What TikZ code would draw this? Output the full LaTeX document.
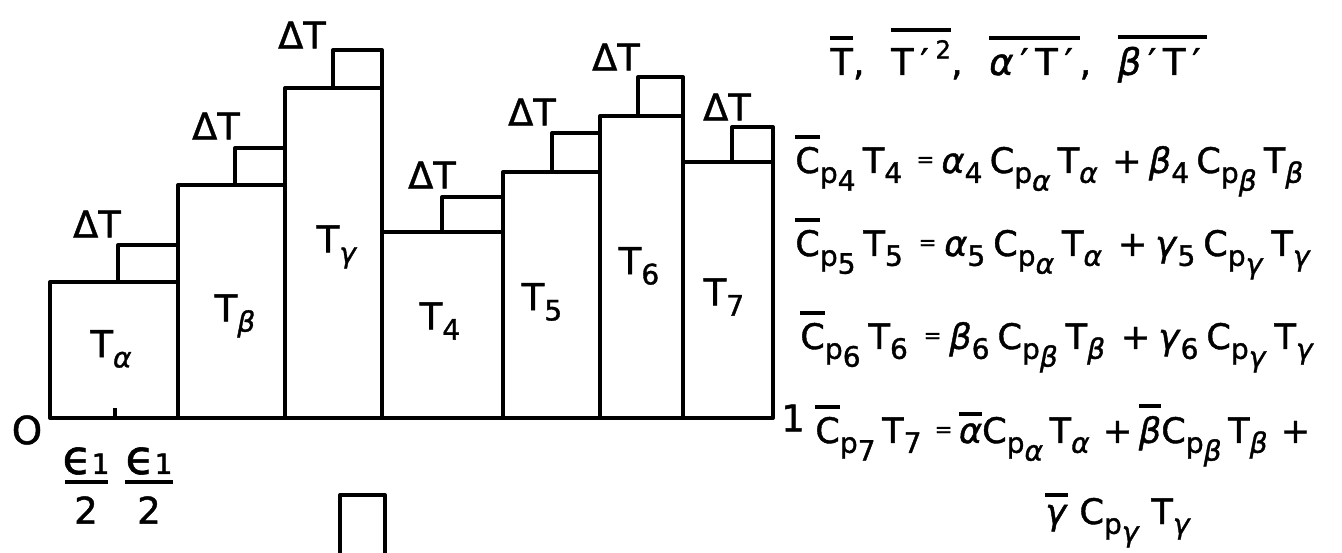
\documentclass[tikz,border=0pt]{standalone}
\usepackage{fontspec}
\setmainfont{DejaVu Sans}[FakeBold=1.2]
\usetikzlibrary{positioning}

\newsavebox\ovbox
\newlength\eqgap
\setlength\eqgap{2pt}
\newcommand{\obar}[1]{\sbox\ovbox{#1}\rlap{\raisebox{\dimexpr\ht\ovbox+0.22em\relax}{\rule{\wd\ovbox}{0.11em}}}\usebox\ovbox}
\newcommand{\subn}[1]{\raisebox{-0.28em}{\fontsize{16}{16}\selectfont #1}}
\newcommand{\subx}[1]{\subn{#1}\kern\eqgap}
\newcommand{\supx}[1]{\raisebox{0.45em}{\fontsize{14}{14}\selectfont #1}}
\newcommand{\eqsign}{\kern\eqgap\raisebox{0.18em}{\fontsize{12}{12}\selectfont =}\kern\eqgap}
\newcommand{\plus}{\kern\eqgap+\kern\eqgap}
\newcommand{\prm}{\kern\eqgap′\kern\eqgap}
\newcommand{\galpha}{\textit{α}}
\newcommand{\gbeta}{\textit{β}}
\newcommand{\ggamma}{\textit{γ}}

\begin{document}
\begin{tikzpicture}[
    x=0.02cm, y=-0.02cm,
    bar/.style={draw, line width=2.3pt, line join=round},
    lbl/.style={inner sep=0pt, font=\fontsize{21}{21}\selectfont},
    eqn/.style={inner sep=0pt, anchor=base west, font=\fontsize{20}{20}\selectfont}
]
    \useasboundingbox (0,0) rectangle (1342,553);

    % bars with their Delta T steps
    \foreach \xl/\xr/\yt/\xb/\yb/\dx/\dy [count=\i] in {
        50/178/282/118/245/97/224,
        178/285/185/235/148/216/126,
        285/382/88/333/50/302/35,
        382/503/232/442/197/432/175,
        503/600/172/552/133/532/112,
        600/683/116/638/77/616/57,
        683/773/162/732/127/727/107}
    {
        \draw[bar] (\xl,418) rectangle (\xr,\yt);
        \draw[bar] (\xb,\yt) rectangle (\xr,\yb);
        \node[lbl] (dt\i) at (\dx,\dy) {ΔT};
    }
    \draw[bar] (115,418) -- (115,408);

    % bar labels
    \node[lbl] (ta) at (111,349) {T\subn{\galpha}};
    \node[lbl] (tb) at (235,316) {T\subn{\gbeta}};
    \node[lbl] (tg) at (337,247) {T\subn{\ggamma}};
    \node[lbl] (t4) at (440,321) {T\subn{4}};
    \node[lbl] (t5) at (542,302) {T\subn{5}};
    \node[lbl] (t6) at (639,266) {T\subn{6}};
    \node[lbl] (t7) at (724,297) {T\subn{7}};

    % axis ends and the two half widths
    \node[lbl, font=\fontsize{22}{22}\selectfont] (zero) at (27,430) {O};
    \node[lbl] (one) at (793,418) {1};
    \node[lbl, font=\fontsize{27}{27}\selectfont] (eps1) at (86,461) {ϵ{\fontsize{16}{16}\selectfont 1}};
    \node[lbl, below=0.42cm of eps1] (half1) {2};
    \draw[bar] (65,482) -- (108,482);
    \node[lbl, font=\fontsize{27}{27}\selectfont] (eps2) at (149,461) {ϵ{\fontsize{16}{16}\selectfont 1}};
    \node[lbl, below=0.42cm of eps2] (half2) {2};
    \draw[bar] (125,482) -- (173,482);

    \draw[bar] (340,553) |- (385,495) -- (385,553);

    % mixing relations
    \node[eqn, font=\fontsize{21}{21}\selectfont] (eq1) at (830,75) {\setlength\eqgap{3.8pt}\obar{T},\hspace{0.4em} \obar{T\prm\supx{2}},\hspace{0.4em} \obar{\galpha\prm T\prm},\hspace{0.4em} \obar{\gbeta\prm T\prm}};
    \node[eqn] (eq4) at (795,173) {\setlength\eqgap{4.1pt}\obar{C}\subx{p\subn{4}}T\subx{4}\eqsign\galpha\subx{4}C\subx{p\subn{\galpha}}T\subx{\galpha}\plus\gbeta\subx{4}C\subx{p\subn{\gbeta}}T\subx{\gbeta}};
    \node[eqn] (eq5) at (795,256) {\setlength\eqgap{4.5pt}\obar{C}\subx{p\subn{5}}T\subx{5}\eqsign\galpha\subx{5}C\subx{p\subn{\galpha}}T\subx{\galpha}\plus\ggamma\subx{5}C\subx{p\subn{\ggamma}}T\subx{\ggamma}};
    \node[eqn] (eq6) at (800,349) {\setlength\eqgap{4.5pt}\obar{C}\subx{p\subn{6}}T\subx{6}\eqsign\gbeta\subx{6}C\subx{p\subn{\gbeta}}T\subx{\gbeta}\plus\ggamma\subx{6}C\subx{p\subn{\ggamma}}T\subx{\ggamma}};
    \node[eqn] (eq7) at (815,443) {\setlength\eqgap{3.75pt}\obar{C}\subx{p\subn{7}}T\subx{7}\eqsign\obar{\galpha}C\subx{p\subn{\galpha}}T\subx{\galpha}\plus\obar{\gbeta}C\subx{p\subn{\gbeta}}T\subx{\gbeta}\plus};
    \node[eqn] (eq7b) at (1045,524) {\setlength\eqgap{6.7pt}\obar{\ggamma}\kern\eqgap C\subx{p\subn{\ggamma}}T\subn{\ggamma}};
\end{tikzpicture}
\end{document}
